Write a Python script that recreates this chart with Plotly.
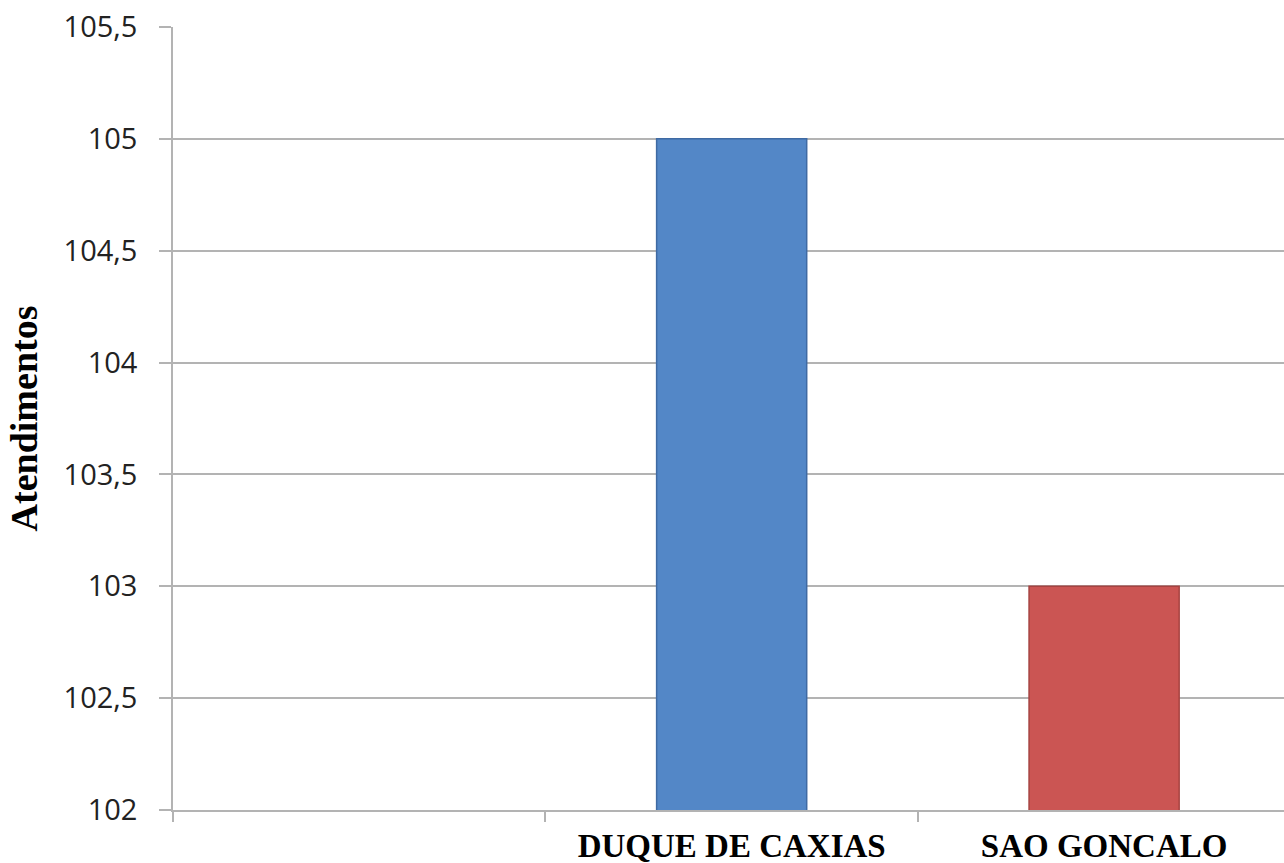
import plotly.graph_objects as go

# Atendimentos por município
categorias = [" ", "DUQUE DE CAXIAS", "SAO GONCALO"]
atendimentos = [None, 105, 103]
cores = ["#5387c7", "#5387c7", "#cb5553"]
bordas = ["#3f6aa3", "#3f6aa3", "#a64341"]

y_ticks = [102, 102.5, 103, 103.5, 104, 104.5, 105, 105.5]
y_tick_text = ["102", "102,5", "103", "103,5", "104", "104,5", "105", "105,5"]

fig = go.Figure(
    go.Bar(
        x=categorias,
        y=atendimentos,
        width=0.403,
        marker=dict(color=cores, line=dict(color=bordas, width=1.5)),
    )
)

grid = "#b3b3b3"

fig.update_layout(
    width=1284,
    height=863,
    margin=dict(l=173, r=0, t=27, b=53),
    paper_bgcolor="white",
    plot_bgcolor="white",
    showlegend=False,
    xaxis=dict(
        type="category",
        categoryorder="array",
        categoryarray=categorias,
        range=[-0.5, 2.483],
        tickson="boundaries",
        ticks="outside",
        ticklen=10,
        tickcolor=grid,
        tickwidth=1.5,
        showgrid=False,
        showline=True,
        linecolor=grid,
        linewidth=1.5,
        tickfont=dict(family="Liberation Serif", size=33, color="#000000", weight="bold"),
        ticklabelstandoff=6,
    ),
    yaxis=dict(
        range=[102, 105.5],
        tickvals=y_ticks,
        ticktext=y_tick_text,
        ticks="outside",
        ticklen=12,
        tickcolor=grid,
        tickwidth=1.5,
        showgrid=True,
        gridcolor=grid,
        gridwidth=1.5,
        showline=True,
        linecolor=grid,
        linewidth=1.5,
        zeroline=False,
        tickfont=dict(family="Open Sans", size=29, color="#222222"),
        ticklabelstandoff=16,
        title=dict(
            text="Atendimentos",
            font=dict(family="Liberation Serif", size=38, color="#000000", weight="bold"),
            standoff=14,
        ),
    ),
)

fig.write_html("out.html")
